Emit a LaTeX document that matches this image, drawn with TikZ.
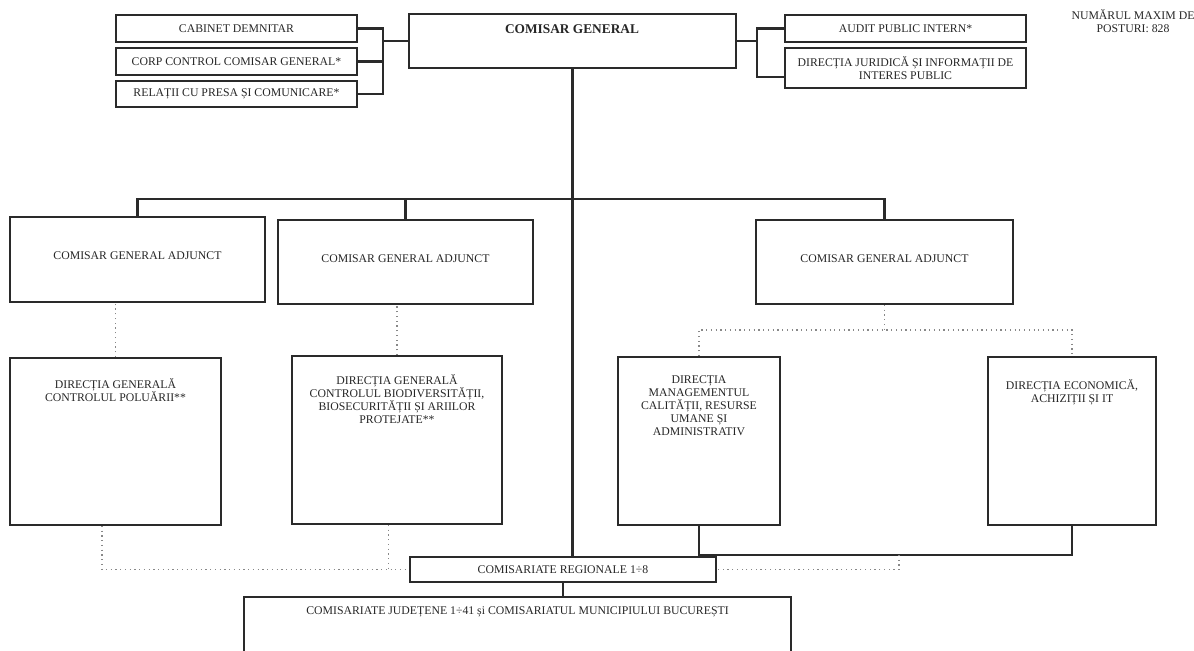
\documentclass[tikz,border=0pt]{standalone}
\usepackage{fontspec}
\setmainfont{Liberation Serif}
\usetikzlibrary{positioning, fit}

\definecolor{linec}{HTML}{2A2A2A}
\definecolor{dotc}{HTML}{888888}
\definecolor{txtc}{HTML}{262626}

\begin{document}
\begin{tikzpicture}[x=0.02cm, y=-0.02cm,
    box/.style={draw=linec, line width=1.1pt, inner sep=0pt},
    lbl/.style={font=\fontsize{6.7}{7.4}\selectfont, text=txtc, align=center, inner sep=0pt},
    link/.style={draw=linec, line width=1.2pt},
    dots/.style={draw=dotc, dotted, line width=0.7pt}]

    \useasboundingbox (0,0) rectangle (1194,650);
    \clip (0,0) rectangle (1194,650);

    % top level
    \node[box, fit={(409,14) (736,68)}] (cg) {};
    \node[lbl, font=\fontsize{7.6}{8}\selectfont\bfseries] (cg-t) at (572,29) {COMISAR GENERAL};
    \node[lbl] (posturi) at (1133,21) {NUMĂRUL MAXIM DE\\POSTURI: 828};

    \foreach \n/\ya/\yb/\txt in {cab/15/42/CABINET DEMNITAR, corp/48/75/CORP CONTROL COMISAR GENERAL*, rel/81/107/RELAȚII CU PRESA ȘI COMUNICARE*} {
        \node[box, fit={(116,\ya) (357,\yb)}] (\n) {};
        \node[lbl] (\n-t) at (\n) {\txt};
    }
    \coordinate (jl) at (383,41);
    \foreach \n in {cab,corp,rel} {
        \draw[link] (\n.east) -| (jl);
    }
    \draw[link] (jl) -- (cg.west);

    \node[box, fit={(785,15) (1026,42)}] (audit) {};
    \node[lbl] (audit-t) at (audit) {AUDIT PUBLIC INTERN*};
    \node[box, fit={(785,48) (1026,88)}] (jur) {};
    \node[lbl] (jur-t) at (jur) {DIRECȚIA JURIDICĂ ȘI INFORMAȚII DE\\INTERES PUBLIC};
    \coordinate (jr) at (757,41);
    \draw[link] (cg.east) -- (jr) |- (audit.west);
    \draw[link] (jr) |- ([yshift=-5pt]jur.west);

    % adjuncti
    \node[box, fit={(10,217) (265,302)}] (cga1) {};
    \node[box, fit={(278,220) (533,304)}] (cga2) {};
    \node[box, fit={(756,220) (1013,304)}] (cga3) {};
    \foreach \n in {cga1,cga2,cga3} {
        \node[lbl] (\n-t) at ([yshift=2pt]\n.center) {COMISAR GENERAL ADJUNCT};
    }
    \coordinate (bar) at (573,199);
    \draw[link] (cga1.north) |- (bar) -| (cga3.north);
    \draw[link] (cga2.north) -- (cga2.north |- bar);

    % directii
    \node[box, fit={(10,358) (221,525)}] (dg1) {};
    \node[lbl, below=12pt of dg1.north] (dg1-t) {DIRECȚIA GENERALĂ\\CONTROLUL POLUĂRII**};
    \node[box, fit={(292,356) (502,524)}] (dg2) {};
    \node[lbl, below=11pt of dg2.north] (dg2-t) {DIRECȚIA GENERALĂ\\CONTROLUL BIODIVERSITĂȚII,\\BIOSECURITĂȚII ȘI ARIILOR\\PROTEJATE**};
    \node[box, fit={(618,357) (780,525)}] (dm) {};
    \node[lbl, below=11pt of dm.north] (dm-t) {DIRECȚIA\\MANAGEMENTUL\\CALITĂȚII, RESURSE\\UMANE ȘI\\ADMINISTRATIV};
    \node[box, fit={(988,357) (1156,525)}] (de) {};
    \node[lbl, below=13pt of de.north] (de-t) {DIRECȚIA ECONOMICĂ,\\ACHIZIȚII ȘI IT};

    \draw[dots] (dg1.north) -- (dg1.north |- cga1.south);
    \draw[dots] (dg2.north) -- (dg2.north |- cga2.south);
    \coordinate (spl) at (884.5,330);
    \draw[dots] (cga3.south) -- (spl);
    \draw[dots] (dm.north) |- (spl) -| (de.north);

    % comisariate
    \node[box, fit={(410,557) (716,582)}] (reg) {};
    \node[lbl] (reg-t) at (reg) {COMISARIATE REGIONALE 1÷8};
    \node[box, fit={(244,597) (791,665)}] (jud) {};
    \node[lbl, below=6pt of jud.north] (jud-t) {COMISARIATE JUDEȚENE 1÷41 și COMISARIATUL MUNICIPIULUI BUCUREȘTI};

    \draw[link] (cg.south) -- (cg.south |- reg.north);
    \draw[link] (reg.south) -- (reg.south |- jud.north);

    \coordinate (jb) at (899,555);
    \draw[link] (dm.south) |- (jb) -| (de.south);
    \draw[dots] (jb) |- (reg.east);
    \draw[dots] ([xshift=-7.7pt]dg1.south) |- (reg.west);
    \draw[dots] ([xshift=-5pt]dg2.south) -- ([xshift=-5pt]dg2.south |- reg.west);
\end{tikzpicture}
\end{document}
